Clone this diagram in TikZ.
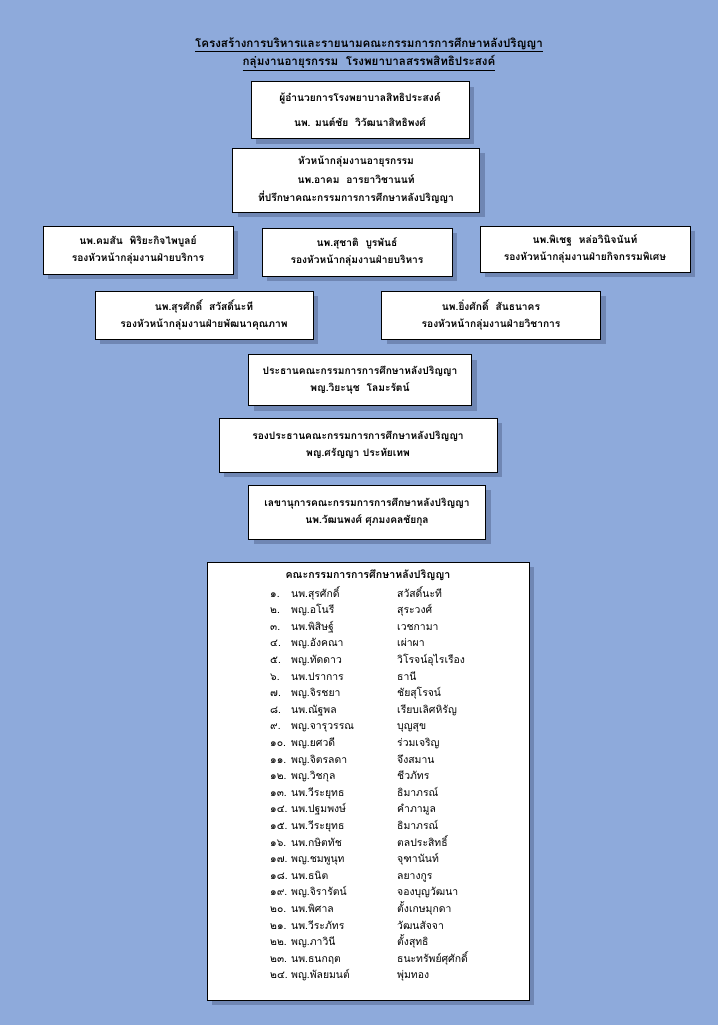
\documentclass[tikz,border=0pt]{standalone}
\usepackage{fontspec}
\usepackage{tikz}
\usetikzlibrary{shadows}
\newfontfamily\thaifont[Script=Thai]{Loma}
\definecolor{PageBlue}{HTML}{8EAADB}
\definecolor{ShadowBlue}{HTML}{6F86B3}
\definecolor{Ink}{HTML}{000000}

\tikzset{
  postbox/.style={rectangle,draw=Ink,fill=white,line width=1pt,align=center,
    font=\thaifont\bfseries\fontsize{10.2}{17.5}\selectfont,
    general shadow={fill=ShadowBlue,shadow xshift=5pt,shadow yshift=-5pt}},
  listtext/.style={anchor=base west,inner sep=0pt,font=\thaifont\fontsize{10.4}{12}\selectfont}
}

\begin{document}
\begin{tikzpicture}[x=1pt,y=-1pt]
    \fill[PageBlue] (0,0) rectangle (718,1025);
    \useasboundingbox (0,0) rectangle (718,1025);
    % title
    \node[font=\thaifont\bfseries\fontsize{11.6}{18.5}\selectfont,align=center] (title) at (369,54)
      {\underline{โครงสร้างการบริหารและรายนามคณะกรรมการการศึกษาหลังปริญญา}\\
       \underline{กลุ่มงานอายุรกรรม\ \ โรงพยาบาลสรรพสิทธิประสงค์}};
    % boxes
    \node[postbox,minimum width=218pt,minimum height=57pt,
      font=\thaifont\bfseries\fontsize{10.2}{25}\selectfont] (director) at (360,110)
      {ผู้อำนวยการโรงพยาบาลสิทธิประสงค์\\นพ. มนต์ชัย\ \ วิวัฒนาสิทธิพงศ์};
    \node[postbox,minimum width=247pt,minimum height=64pt,
      font=\thaifont\bfseries\fontsize{10.2}{18.5}\selectfont] (head) at (356,180)
      {หัวหน้ากลุ่มงานอายุรกรรม\\นพ.อาคม\ \ อารยาวิชานนท์\\ที่ปรึกษาคณะกรรมการการศึกษาหลังปริญญา};
    \node[postbox,minimum width=190pt,minimum height=48pt] (service) at (138,250)
      {นพ.คมสัน\ \ พิริยะกิจไพบูลย์\\รองหัวหน้ากลุ่มงานฝ่ายบริการ};
    \node[postbox,minimum width=190pt,minimum height=48pt] (admin) at (357,252)
      {นพ.สุชาติ\ \ บูรพันธ์\\รองหัวหน้ากลุ่มงานฝ่ายบริหาร};
    \node[postbox,minimum width=210pt,minimum height=46pt] (special) at (585,249)
      {นพ.พิเชฐ\ \ หล่อวินิจนันท์\\รองหัวหน้ากลุ่มงานฝ่ายกิจกรรมพิเศษ};
    \node[postbox,minimum width=218pt,minimum height=48pt] (quality) at (204,315)
      {นพ.สุรศักดิ์\ \ สวัสดิ์นะที\\รองหัวหน้ากลุ่มงานฝ่ายพัฒนาคุณภาพ};
    \node[postbox,minimum width=219pt,minimum height=48pt] (academic) at (491,315)
      {นพ.ยิ่งศักดิ์\ \ สันธนาคร\\รองหัวหน้ากลุ่มงานฝ่ายวิชาการ};
    \node[postbox,minimum width=223pt,minimum height=51pt] (chair) at (360,380)
      {ประธานคณะกรรมการการศึกษาหลังปริญญา\\พญ.วิยะนุช\ \ โลมะรัตน์};
    \node[postbox,minimum width=278pt,minimum height=54pt] (vicechair) at (358,445)
      {รองประธานคณะกรรมการการศึกษาหลังปริญญา\\พญ.ศรัญญา ประทัยเทพ};
    \node[postbox,minimum width=237pt,minimum height=54pt] (secretary) at (367,512)
      {เลขานุการคณะกรรมการการศึกษาหลังปริญญา\\นพ.วัฒนพงศ์ ศุภมงคลชัยกุล};
    % committee list
    \node[postbox,minimum width=322pt,minimum height=438pt] (committee) at (368,781) {};
    \node[font=\thaifont\bfseries\fontsize{10.6}{12}\selectfont] (listhead) at (368,575)
      {คณะกรรมการการศึกษาหลังปริญญา};
    \foreach \n/\pre/\last [count=\i] in {
      ๑./นพ.สุรศักดิ์/สวัสดิ์นะที, ๒./พญ.อโนรี/สุระวงศ์, ๓./นพ.พิสิษฐ์/เวชกามา,
      ๔./พญ.อังคณา/เผ่าผา, ๕./พญ.ทัดดาว/วิโรจน์อุไรเรือง, ๖./นพ.ปราการ/ธานี,
      ๗./พญ.จิรชยา/ชัยสุโรจน์, ๘./นพ.ณัฐพล/เรียบเลิศหิรัญ, ๙./พญ.จารุวรรณ/บุญสุข,
      ๑๐./พญ.ยศวดี/ร่วมเจริญ, ๑๑./พญ.จิตรลดา/จึงสมาน, ๑๒./พญ.วิชกุล/ชีวภัทร,
      ๑๓./นพ.วีระยุทธ/ธิมาภรณ์, ๑๔./นพ.ปฐมพงษ์/คำภามูล, ๑๕./นพ.วีระยุทธ/ธิมาภรณ์,
      ๑๖./นพ.กษิตทัช/ตลประสิทธิ์, ๑๗./พญ.ชมพูนุท/จุฑานันท์, ๑๘./นพ.ธนิต/ลยางกูร,
      ๑๙./พญ.จิรารัตน์/จองบุญวัฒนา, ๒๐./นพ.พิศาล/ตั้งเกษมุกดา, ๒๑./นพ.วีระภัทร/วัฒนสัจจา,
      ๒๒./พญ.ภาวินี/ตั้งสุทธิ, ๒๓./นพ.ธนกฤต/ธนะทรัพย์ศุศักดิ์, ๒๔./พญ.พัลยมนต์/พุ่มทอง}{
      \node[listtext] (num\i) at (270,{597+(\i-1)*16.6}) {\n};
      \node[listtext] (fn\i) at (291,{597+(\i-1)*16.6}) {\pre};
      \node[listtext] (ln\i) at (397,{597+(\i-1)*16.6}) {\last};
    }
  \end{tikzpicture}
\end{document}
